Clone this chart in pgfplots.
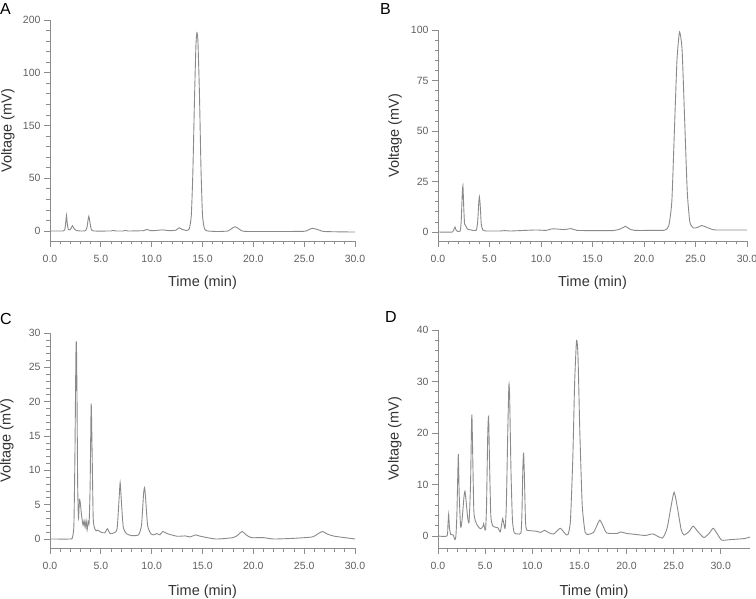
\documentclass[border=0pt]{standalone}
\usepackage{pgfplots}
\pgfplotsset{compat=1.18}
\usepackage{fontspec}
\setmainfont{Liberation Sans}
\definecolor{trace}{HTML}{8A8A8A}
\definecolor{axcol}{HTML}{8C8C8C}
\definecolor{ticktext}{HTML}{606060}
\definecolor{labtext}{HTML}{333333}
\pgfplotsset{
  chrom/.style={
    scale only axis,
    axis x line=bottom, axis y line=left,
    axis line style={-, draw=axcol, line width=0.8bp},
    every tick/.style={draw=axcol, line width=0.7bp},
    tick align=outside,
    major tick length=6bp, minor tick length=3.5bp,
    enlargelimits=false,
    xmin=0,
    minor x tick num=4, minor y tick num=4,
    xtick={0,5,10,15,20,25,30},
    xticklabel style={/pgf/number format/fixed, /pgf/number format/fixed zerofill, /pgf/number format/precision=1, font=\fontsize{10.5bp}{12bp}\selectfont, text=ticktext, yshift=-5bp},
    yticklabel style={font=\fontsize{10.5bp}{12bp}\selectfont, text=ticktext},
    /pgf/number format/assume math mode=true,
    label style={font=\fontsize{14.5bp}{16bp}\selectfont, text=labtext},
    xlabel={Time (min)}, ylabel={Voltage (mV)},
  },
  tr/.style={draw=trace, line width=0.9bp, mark=none, smooth, tension=0.35}
}
\begin{document}
\begin{tikzpicture}
\useasboundingbox (0,0) rectangle (756bp,599bp);
% ---------------- A ----------------
\begin{axis}[chrom, at={(50bp,358bp)}, anchor=south west, width=305bp, height=221bp,
  xmax=30, ymin=-9.5, ymax=200,
  ytick={0,50,100,150,200}, yticklabels={0,50,150,100,200},
  xlabel style={at={(axis description cs:0.5,-0.19)}, anchor=center},
  ylabel style={at={(axis description cs:-0.138,0.5)}, anchor=center}]
\addplot[tr] coordinates {(0,0) (1.3,0) (1.45,1) (1.55,8) (1.62,15) (1.7,7) (1.8,1.5) (1.95,1) (2.1,3) (2.2,5) (2.35,2.5) (2.6,0.5) (3.0,0) (3.5,0.3) (3.65,4) (3.75,11) (3.82,14) (3.9,10) (4.05,2) (4.3,0) (6.0,0) (6.2,0.5) (6.5,0) (7.2,0) (7.4,0.6) (7.7,0) (9.2,0.3) (9.5,1.5) (9.9,0.3) (10.5,0.5) (11,1) (11.8,0.3) (12.4,0.8) (12.7,3) (13.0,1.5) (13.4,0.5) (13.7,2) (13.9,15) (14.05,55) (14.2,120) (14.35,175) (14.45,188) (14.55,180) (14.7,130) (14.85,60) (15.0,15) (15.2,2) (15.5,0) (16.5,-0.5) (17.5,0) (17.9,2.5) (18.2,4) (18.5,2.5) (18.9,0) (19.5,-0.5) (22,-0.5) (25,-0.3) (25.5,1.5) (25.8,2.5) (26.3,1.5) (27,-0.5) (30,-1)};
\end{axis}
% ---------------- B ----------------
\begin{axis}[chrom, at={(438bp,358bp)}, anchor=south west, width=309bp, height=211bp,
  xmax=30, ymin=-4.45, ymax=100,
  ytick={0,25,50,75,100},
  xlabel style={at={(axis description cs:0.5,-0.199)}, anchor=center},
  ylabel style={at={(axis description cs:-0.139,0.5)}, anchor=center}]
\addplot[tr] coordinates {(0,0) (1.4,0) (1.55,1.5) (1.65,2.5) (1.75,1) (1.9,0.3) (2.15,0.5) (2.25,5) (2.35,18) (2.42,23) (2.5,12) (2.58,4) (2.7,3) (2.85,1.5) (3.2,1) (3.7,0.8) (3.85,5) (3.95,14) (4.02,17.5) (4.1,13) (4.2,4) (4.35,1) (4.7,0.5) (6,0.5) (6.5,0.7) (7,0.5) (8,0.7) (9.5,1) (10.5,0.8) (11,1.5) (11.5,1.5) (12.3,1.2) (12.9,1.7) (13.5,0.8) (15,0.7) (17,0.7) (17.7,1.5) (18.2,2.8) (18.6,1.5) (19.1,0.8) (21,0.8) (22,0.9) (22.4,3) (22.7,15) (22.95,50) (23.2,85) (23.45,99) (23.7,90) (23.95,55) (24.2,20) (24.45,5) (24.8,2) (25.2,2.3) (25.6,3.2) (26.0,2.5) (26.5,1.5) (27,1) (30,1)};
\end{axis}
% ---------------- C ----------------
\begin{axis}[chrom, at={(50bp,51bp)}, anchor=south west, width=305bp, height=215bp,
  xmax=30, ymin=-1.31, ymax=30,
  ytick={0,5,10,15,20,25,30},
  xlabel style={at={(axis description cs:0.5,-0.205)}, anchor=center},
  ylabel style={at={(axis description cs:-0.141,0.5)}, anchor=center}]
\addplot[tr] coordinates {(0,0) (2.0,0) (2.2,0.2) (2.35,2) (2.45,12) (2.55,27) (2.6,28.5) (2.66,20) (2.72,8) (2.8,3) (2.9,5.8) (3.0,5) (3.1,3.5) (3.25,2) (3.35,2.7) (3.45,1.7) (3.55,2.7) (3.65,1.3) (3.75,2.6) (3.85,2.3) (3.95,8) (4.05,19.7) (4.15,12) (4.25,3) (4.4,1.5) (4.55,1.2) (4.7,1.3) (5.0,1.0) (5.4,0.9) (5.65,1.5) (5.9,0.8) (6.3,0.9) (6.6,1.5) (6.8,6) (6.9,8.2) (7.0,6) (7.2,1.8) (7.5,0.8) (8,0.5) (8.7,0.6) (9.0,2) (9.2,6.5) (9.3,7.5) (9.4,6) (9.6,2) (9.9,0.8) (10.2,0.6) (10.5,0.8) (10.8,0.6) (11.1,1.1) (11.5,0.8) (12.5,0.4) (13.3,0.45) (13.8,0.3) (14.3,0.6) (14.8,0.4) (16.3,0) (18,0.2) (18.5,0.6) (18.9,1.1) (19.3,0.6) (19.8,0.2) (21,0.2) (22,0) (24,0.1) (25.8,0.3) (26.3,0.7) (26.8,1.1) (27.3,0.7) (28,0.4) (29,0.2) (30,0)};
\end{axis}
% ---------------- D ----------------
\begin{axis}[chrom, at={(438bp,51bp)}, anchor=south west, width=312bp, height=218bp,
  xmax=33.1, ymin=-2.33, ymax=40,
  ytick={0,10,20,30,40},
  xlabel style={at={(axis description cs:0.5,-0.202)}, anchor=center},
  ylabel style={at={(axis description cs:-0.138,0.5)}, anchor=center}]
\addplot[tr] coordinates {(0,0) (0.95,0) (1.05,2) (1.13,4.2) (1.22,1.5) (1.35,0.3) (1.6,0.2) (1.8,-0.7) (1.9,0) (2.0,4) (2.1,12) (2.16,15.8) (2.25,8) (2.4,1.8) (2.55,3) (2.75,7.5) (2.86,8.7) (2.97,7) (3.15,3.5) (3.3,2.8) (3.45,10) (3.55,21) (3.6,23.5) (3.68,16) (3.8,5) (3.95,3) (4.2,2) (4.5,1.4) (4.75,1.8) (4.84,2.4) (4.95,1.5) (5.05,1.2) (5.15,6) (5.28,20) (5.37,23.2) (5.46,15) (5.6,4) (5.8,2) (6.1,1.7) (6.35,1.6) (6.6,0.8) (6.75,2.2) (6.86,3.4) (6.97,2.5) (7.12,1.5) (7.25,6) (7.4,20) (7.52,29.3) (7.6,27) (7.75,12) (7.9,3) (8.1,0.6) (8.5,0.4) (8.8,0.6) (8.9,4) (9.0,13) (9.08,16.2) (9.16,12) (9.28,3) (9.4,1.2) (10.0,1.0) (10.5,0.9) (10.9,0.7) (11.3,1.1) (11.8,0.6) (12.3,0.4) (12.97,1.5) (13.5,0.4) (13.8,0.3) (14.05,3) (14.3,15) (14.5,30) (14.7,38) (14.85,35) (15.05,20) (15.3,6) (15.6,0.8) (15.9,0.3) (16.5,0.7) (16.9,2.2) (17.17,3.1) (17.45,2.2) (17.9,0.6) (19,0.5) (19.4,0.8) (20,0.5) (21,0.3) (22,0.1) (22.8,0.4) (23.8,-0.4) (24.3,1.5) (24.7,5.5) (25.05,8.5) (25.4,5.5) (25.8,1.2) (26.1,0.2) (26.6,0.8) (27.07,1.9) (27.5,1.0) (28.2,-0.3) (28.8,0.6) (29.19,1.5) (29.6,0.5) (30.1,-0.8) (31,-0.7) (32.5,-0.5) (33.1,-0.2)};
\end{axis}
% panel letters
\node[anchor=base west, inner sep=0pt, font=\fontsize{16bp}{18bp}\selectfont] at (0bp,584bp) {A};
\node[anchor=base west, inner sep=0pt, font=\fontsize{16bp}{18bp}\selectfont] at (380bp,584bp) {B};
\node[anchor=base west, inner sep=0pt, font=\fontsize{16bp}{18bp}\selectfont] at (0bp,274bp) {C};
\node[anchor=base west, inner sep=0pt, font=\fontsize{16bp}{18bp}\selectfont] at (385bp,276bp) {D};
\end{tikzpicture}
\end{document}
